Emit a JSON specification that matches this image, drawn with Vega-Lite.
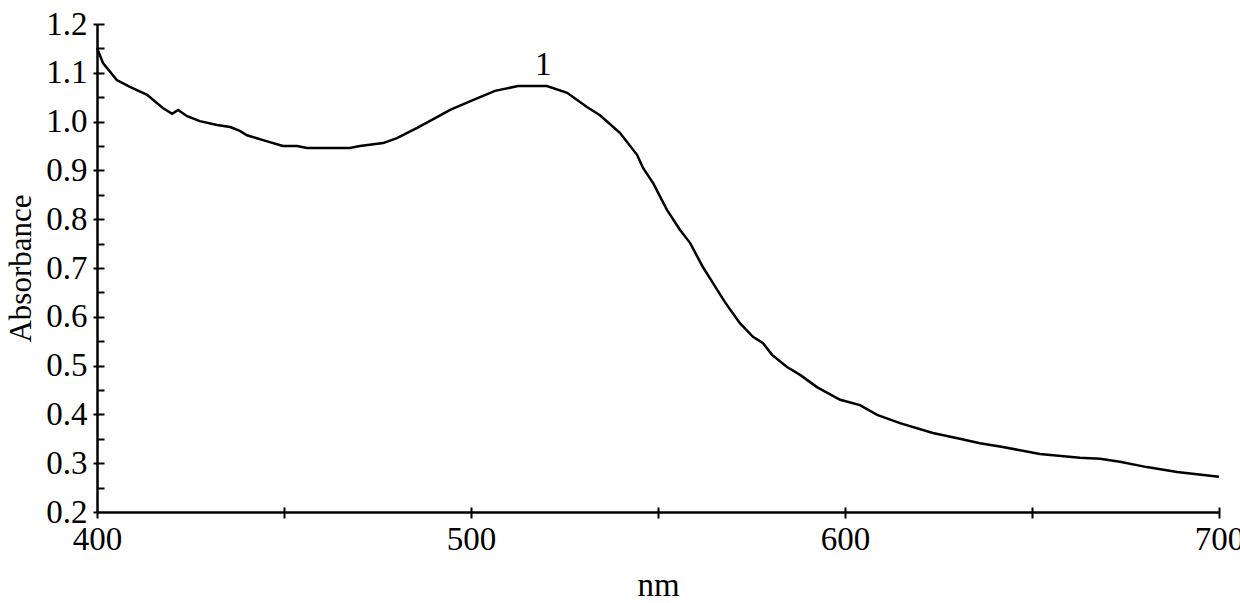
{
  "$schema": "https://vega.github.io/schema/vega-lite/v6.json",
  "autosize": "none",
  "width": 1122,
  "height": 488,
  "padding": {"left": 97, "top": 24, "right": 21, "bottom": 91},
  "background": "white",
  "config": {
    "font": "Liberation Serif",
    "view": {"stroke": null},
    "axis": {"grid": false, "domainColor": "black", "domainWidth": 2.5, "tickColor": "black", "tickWidth": 2, "labelColor": "black", "titleColor": "black", "labelFont": "Liberation Serif", "titleFont": "Liberation Serif", "labelFontSize": 33, "titleFontSize": 33, "titleFontWeight": "normal"}
  },
  "datasets": {
    "spectrum": [
      {"nm": 400, "abs": 1.151},
      {"nm": 401.6, "abs": 1.12},
      {"nm": 405.3, "abs": 1.085},
      {"nm": 408.8, "abs": 1.071},
      {"nm": 413.4, "abs": 1.055},
      {"nm": 417.6, "abs": 1.028},
      {"nm": 420.1, "abs": 1.016},
      {"nm": 421.7, "abs": 1.024},
      {"nm": 424.1, "abs": 1.011},
      {"nm": 427.5, "abs": 1.001},
      {"nm": 432.1, "abs": 0.993},
      {"nm": 435.6, "abs": 0.989},
      {"nm": 438.2, "abs": 0.981},
      {"nm": 440.1, "abs": 0.972},
      {"nm": 444.4, "abs": 0.962},
      {"nm": 449.7, "abs": 0.95},
      {"nm": 453.5, "abs": 0.95},
      {"nm": 456.1, "abs": 0.946},
      {"nm": 467.6, "abs": 0.946},
      {"nm": 470.3, "abs": 0.95},
      {"nm": 476.5, "abs": 0.956},
      {"nm": 480.2, "abs": 0.966},
      {"nm": 485.6, "abs": 0.987},
      {"nm": 490.9, "abs": 1.009},
      {"nm": 494.4, "abs": 1.024},
      {"nm": 500.5, "abs": 1.044},
      {"nm": 506.4, "abs": 1.063},
      {"nm": 512.6, "abs": 1.073},
      {"nm": 520.3, "abs": 1.073},
      {"nm": 525.7, "abs": 1.059},
      {"nm": 531.0, "abs": 1.03},
      {"nm": 534.5, "abs": 1.013},
      {"nm": 539.8, "abs": 0.977},
      {"nm": 544.4, "abs": 0.932},
      {"nm": 546.0, "abs": 0.905},
      {"nm": 548.7, "abs": 0.874},
      {"nm": 552.4, "abs": 0.819},
      {"nm": 555.9, "abs": 0.778},
      {"nm": 558.6, "abs": 0.751},
      {"nm": 562.0, "abs": 0.702},
      {"nm": 564.7, "abs": 0.669},
      {"nm": 567.9, "abs": 0.63},
      {"nm": 571.9, "abs": 0.587},
      {"nm": 575.4, "abs": 0.559},
      {"nm": 578.1, "abs": 0.546},
      {"nm": 580.5, "abs": 0.522},
      {"nm": 584.5, "abs": 0.497},
      {"nm": 588.0, "abs": 0.481},
      {"nm": 592.5, "abs": 0.456},
      {"nm": 598.7, "abs": 0.43},
      {"nm": 604.0, "abs": 0.419},
      {"nm": 608.6, "abs": 0.399},
      {"nm": 614.7, "abs": 0.382},
      {"nm": 623.5, "abs": 0.362},
      {"nm": 630.7, "abs": 0.35},
      {"nm": 636.1, "abs": 0.341},
      {"nm": 642.2, "abs": 0.333},
      {"nm": 652.1, "abs": 0.319},
      {"nm": 662.8, "abs": 0.311},
      {"nm": 668.2, "abs": 0.309},
      {"nm": 673.5, "abs": 0.303},
      {"nm": 680.7, "abs": 0.292},
      {"nm": 688.8, "abs": 0.282},
      {"nm": 700, "abs": 0.272}
    ],
    "labels": [
      {"nm": 519.3, "abs": 1.116, "text": "1"}
    ]
  },
  "resolve": {"axis": {"x": "independent", "y": "independent"}},
  "layer": [
    {
      "data": {"name": "spectrum"},
      "mark": {"type": "line", "color": "black", "strokeWidth": 2.5, "interpolate": "linear"},
      "encoding": {
        "x": {
          "field": "nm", "type": "quantitative",
          "scale": {"domain": [400, 700], "nice": false, "zero": false},
          "axis": {
            "orient": "bottom",
            "title": "nm",
            "values": [400, 450, 500, 550, 600, 650, 700],
            "labelExpr": "datum.value % 100 == 0 ? datum.label : ''",
            "format": "d",
            "tickSize": 6,
            "labelPadding": 5,
            "labelFlush": false,
            "labelOverlap": false,
            "titleY": 83,
            "titleBaseline": "alphabetic"
          }
        },
        "y": {
          "field": "abs", "type": "quantitative",
          "scale": {"domain": [0.2, 1.2], "nice": false, "zero": false},
          "axis": {
            "orient": "left",
            "title": "Absorbance",
            "values": [0.2, 0.3, 0.4, 0.5, 0.6, 0.7, 0.8, 0.9, 1.0, 1.1, 1.2],
            "format": ".1f",
            "tickSize": 4,
            "labelPadding": 6,
            "labelFlush": false,
            "labelOverlap": false,
            "titleFontSize": 31,
            "titleX": -67,
            "titleBaseline": "alphabetic"
          }
        }
      }
    },
    {
      "data": {"name": "labels"},
      "mark": {"type": "text", "font": "Liberation Serif", "fontSize": 33, "color": "black", "baseline": "middle", "align": "center"},
      "encoding": {
        "x": {
          "field": "nm", "type": "quantitative",
          "axis": {"orient": "bottom", "title": null, "labels": false, "domain": false, "values": [450, 500, 550, 600, 650, 700], "tickSize": -5}
        },
        "y": {
          "field": "abs", "type": "quantitative",
          "axis": {"orient": "left", "title": null, "labels": false, "domain": false, "values": [0.25, 0.3, 0.35, 0.4, 0.45, 0.5, 0.55, 0.6, 0.65, 0.7, 0.75, 0.8, 0.85, 0.9, 0.95, 1.0, 1.05, 1.1, 1.15, 1.2], "tickSize": -7}
        },
        "text": {"field": "text"}
      }
    }
  ]
}
